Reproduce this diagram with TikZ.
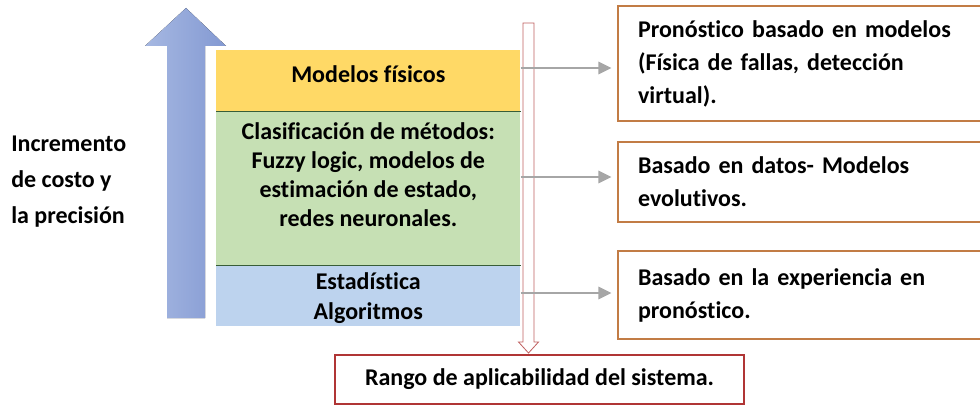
\documentclass[tikz,border=0pt]{standalone}
\usepackage{fontspec}
\setmainfont{Carlito}[Ligatures=NoCommon]
\usetikzlibrary{arrows.meta,positioning}
\definecolor{cbyellow}{HTML}{FFD966}
\definecolor{cbgreen}{HTML}{C6E0B4}
\definecolor{cbblue}{HTML}{BDD3EE}
\definecolor{cbline}{HTML}{385D38}
\definecolor{cbarrowl}{HTML}{A6B8E2}
\definecolor{cbarrowd}{HTML}{8399D2}
\definecolor{cbgrey}{HTML}{A6A6A6}
\definecolor{cborange}{HTML}{C27C45}
\definecolor{cbred}{HTML}{B03535}
\definecolor{cbredl}{HTML}{C06060}

\begin{document}
\begin{tikzpicture}[x=0.75pt, y=-0.75pt,
  font=\bfseries\fontsize{18}{27}\selectfont,
  band/.style={minimum width=228pt, inner sep=0pt, align=center},
  sep/.style={cbline, line width=0.6pt},
  outcome/.style={draw=cborange, line width=1.6pt, fill=white, anchor=north west,
    minimum width=279.75pt, inner xsep=15pt, text width=249.75pt, align=left,
    font=\bfseries\fontsize{18}{24.75}\selectfont},
  link/.style={-{Triangle[length=10pt, width=9pt]}, line width=2.2pt, cbgrey, shorten >=4pt},
  node distance=0pt]
  \useasboundingbox (0,0) rectangle (980,406);

  % cost / precision arrow
  \fill[left color=cbarrowl, right color=cbarrowd]
    (167,318) -- (167,46) -- (145,46) -- (186,8) -- (226,46) -- (205,46) -- (205,318) -- cycle;

  % stacked methods
  \node[band, fill=cbyellow, minimum height=45.75pt, text depth=10pt, anchor=north west] (fisicos) at (216,50) {Modelos físicos};
  \node[band, fill=cbgreen, minimum height=114.75pt, text depth=20pt, below=of fisicos,
    font=\bfseries\fontsize{18}{21.75}\selectfont] (metodos)
    {Clasificación de métodos:\\ Fuzzy logic, modelos de\\ estimación de estado,\\ redes neuronales.};
  \node[band, fill=cbblue, minimum height=45.75pt, text depth=0pt, below=of metodos,
    font=\bfseries\fontsize{18}{22.5}\selectfont] (estad) {Estadística\\ Algoritmos};
  \draw[sep] (metodos.north west) -- (metodos.north east);
  \draw[sep] (estad.north west) -- (estad.north east);

  % range of applicability
  \node[draw=cbred, line width=1.1pt, minimum width=306.75pt, minimum height=36.75pt] (rango)
    at (539.5,379.5) {Rango de aplicabilidad del sistema.};
  \coordinate (rtip) at (528.5,353);
  \draw[cbredl, line width=0.6pt, fill=white]
    (523,23) -- (534,23) -- (534,342) -- (538.5,342) -- (rtip) -- (518.5,342) -- (523,342) -- cycle;

  % outcomes
  \node[outcome, minimum height=86.25pt] (pron) at (617,5)
    {Pronóstico basado en modelos\\ (Física de fallas, detección\\ virtual).};
  \node[outcome, minimum height=60pt] (datos) at (617,141)
    {Basado en datos- Modelos\\ evolutivos.};
  \node[outcome, minimum height=66pt] (exper) at (617,250)
    {Basado en la experiencia en\\ pronóstico.};

  \draw[link] (fisicos.east |- 0,68) -- (pron.west |- 0,68);
  \draw[link] (metodos.east |- 0,177) -- (datos.west |- 0,177);
  \draw[link] (estad.east |- 0,293) -- (exper.west |- 0,293);

  \node[align=left, anchor=west, inner sep=0pt] (incr) at (11,182)
    {Incremento\\ de costo y\\ la precisión};
\end{tikzpicture}
\end{document}
